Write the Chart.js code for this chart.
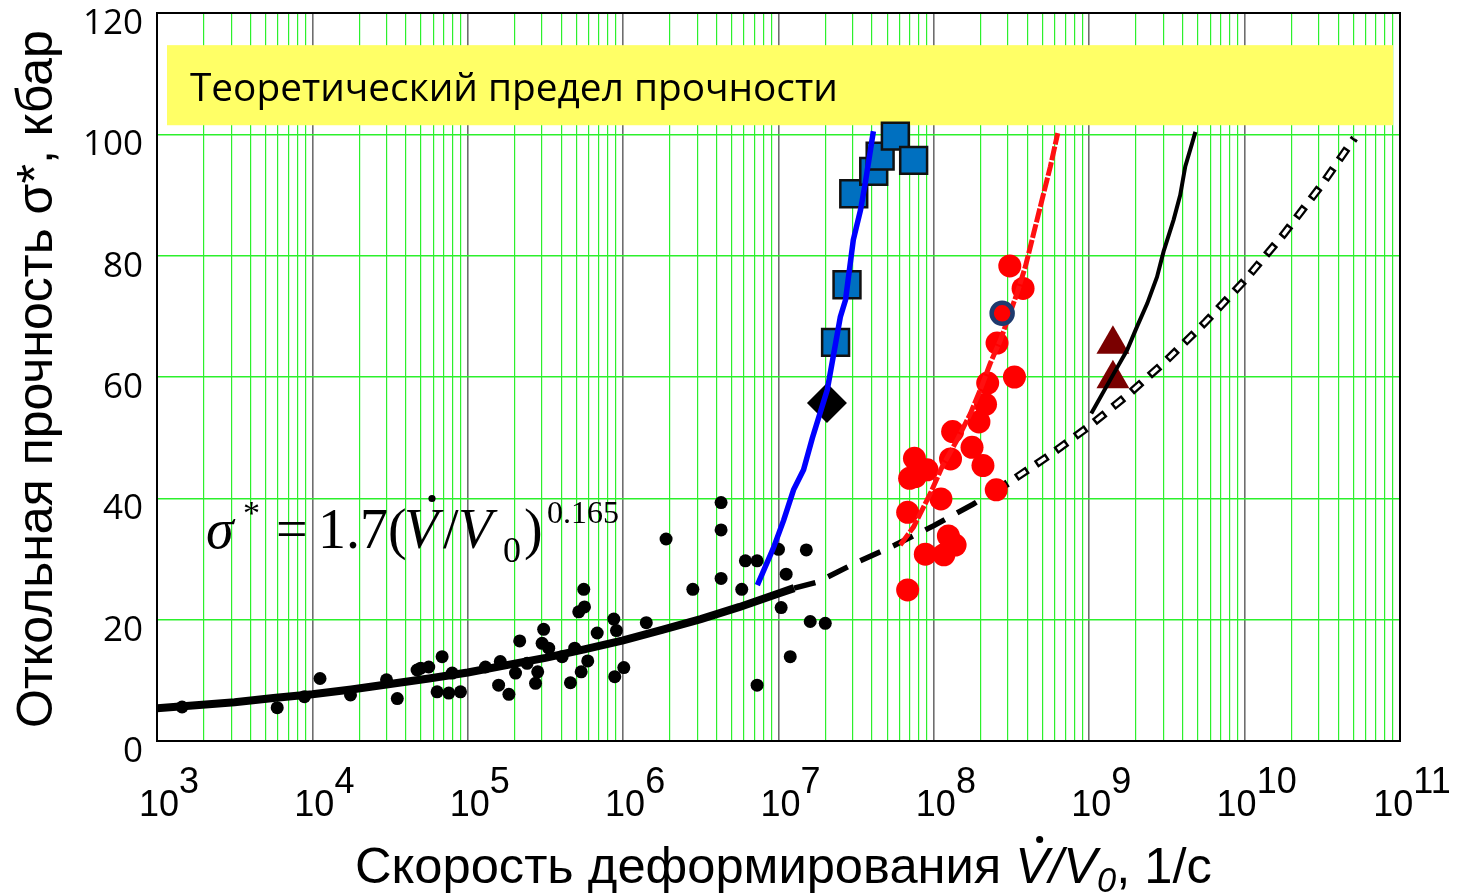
<!DOCTYPE html>
<html>
<head>
<meta charset="utf-8">
<script src="https://cdn.jsdelivr.net/npm/chart.js@4/dist/chart.umd.min.js"></script>
<style>
  html, body { margin: 0; padding: 0; background: #ffffff; }
  #wrap { width: 1457px; height: 896px; position: relative; }
</style>
</head>
<body>
<div id="wrap"><canvas id="c"></canvas></div>
<script>
// Power-law fit σ* = 1.7 (V̇/V0)^0.165 — solid part over the measured range
const fitSolidRate  = [1e3, 1.78e3, 3.16e3, 5.62e3, 1e4, 1.78e4, 3.16e4, 5.62e4, 1e5, 1.78e5, 3.16e5, 5.62e5, 1e6, 1.78e6, 3.16e6, 5.62e6, 1e7, 1.26e7];
const fitSolidSigma = [5.4, 5.9, 6.4, 7.1, 7.7, 8.5, 9.4, 10.3, 11.3, 12.5, 13.7, 15.1, 16.6, 18.3, 20.1, 22.1, 24.3, 25.2];
// extrapolated part: black dashes, then outlined dashes
const fitDashRate   = [1.26e7, 1.78e7, 3.16e7, 5.62e7, 1e8, 1.78e8, 2.5e8];
const fitDashSigma  = [25.2, 26.2, 29.4, 32.3, 35.5, 39.0, 41.3];
const fitHollowRate  = [2.5e8, 3.16e8, 5.62e8, 1e9, 1.78e9, 3.16e9, 5.62e9, 1e10, 1.78e10, 3.16e10, 5.1e10];
const fitHollowSigma = [41.3, 42.9, 47.2, 51.9, 57.1, 62.8, 69.1, 75.9, 83.5, 91.8, 99.4];

// model curves
const blueRate  = [7.31e6, 9.27e6, 1.08e7, 1.25e7, 1.45e7, 1.65e7, 2.06e7, 2.50e7, 2.70e7, 3.03e7, 3.37e7, 3.62e7, 4.08e7];
const blueSigma = [25.7, 31.8, 36.4, 41.4, 44.7, 49.9, 57.9, 69.9, 72.7, 82.6, 87.5, 92.0, 100.5];
const redLineRate  = [6.08e7, 7.41e7, 9.49e7, 1.13e8, 1.41e8, 1.72e8, 1.99e8, 2.31e8, 2.68e8, 3.03e8, 3.43e8, 3.88e8, 4.39e8, 5.09e8, 5.62e8, 6.27e8];
const redLineSigma = [32.3, 35.3, 40.8, 45.2, 49.6, 54.0, 57.9, 62.3, 66.1, 69.9, 73.8, 78.2, 83.7, 90.3, 94.7, 100.2];
const blackLineRate  = [1.03e9, 1.44e9, 1.75e9, 2.03e9, 2.36e9, 2.73e9, 3.01e9, 3.49e9, 3.85e9, 4.15e9, 4.59e9, 4.82e9];
const blackLineSigma = [54.0, 60.6, 64.4, 68.3, 72.1, 76.5, 80.7, 85.9, 90.0, 94.7, 98.5, 100.4];

// experiments
const dotRate = [1.45e3, 5.94e3, 8.89e3, 1.12e4, 1.76e4, 3.00e4, 3.52e4, 4.72e4, 4.98e4, 5.61e4, 6.84e4, 6.35e4, 7.55e4, 8.98e4, 7.94e4,
  1.30e5, 1.58e5, 1.62e5, 1.84e5, 2.03e5, 2.16e5, 2.41e5, 2.73e5, 2.82e5, 3.08e5, 3.01e5, 3.32e5, 4.05e5, 4.58e5, 4.88e5,
  5.18e5, 5.64e5, 5.58e5, 5.37e5, 5.92e5, 6.81e5, 8.71e5, 9.06e5, 8.83e5, 1.01e6, 1.41e6, 1.89e6, 2.81e6, 4.27e6, 4.27e6,
  4.27e6, 5.80e6, 6.12e6, 7.28e6, 7.28e6, 1.00e7, 1.12e7, 1.04e7, 1.19e7, 1.51e7, 1.60e7, 2.00e7];
const dotSigma = [5.6, 5.5, 7.3, 10.3, 7.6, 10.1, 7.0, 11.7, 12.0, 12.2, 13.9, 8.1, 7.9, 8.1, 11.2,
  12.2, 9.2, 13.1, 7.7, 11.2, 16.5, 12.8, 9.5, 11.4, 18.4, 16.1, 15.3, 13.9, 9.6, 15.3,
  21.3, 22.1, 25.0, 11.4, 13.2, 17.8, 20.1, 18.2, 10.6, 12.1, 19.5, 33.3, 25.0, 39.3, 34.8,
  26.8, 25.0, 29.7, 29.7, 9.2, 31.6, 27.5, 22.0, 13.9, 31.5, 19.7, 19.4];
const squareRate  = [2.33e7, 2.76e7, 3.05e7, 4.10e7, 4.51e7, 5.65e7, 7.41e7];
const squareSigma = [65.7, 75.2, 90.2, 93.9, 96.4, 99.7, 95.7];
const diamondRate  = [2.05e7];
const diamondSigma = [55.7];
const redDotRate  = [3.08e8, 3.75e8, 2.55e8, 3.30e8, 2.22e8, 2.15e8, 1.95e8, 1.32e8, 1.76e8, 1.28e8, 2.07e8, 7.50e7, 9.04e7,
  6.98e7, 7.6e7, 1.11e8, 6.78e7, 2.52e8, 8.81e7, 1.16e8, 1.37e8, 1.24e8, 6.78e7];
const redDotSigma = [78.3, 74.6, 65.6, 60.0, 59.0, 55.5, 52.6, 51.0, 48.4, 46.5, 45.4, 46.6, 44.7,
  43.3, 43.6, 39.9, 37.7, 41.4, 30.8, 30.7, 32.3, 33.8, 24.9];
const ringRate  = [2.75e8];
const ringSigma = [70.5];
const triangleRate  = [1.42e9, 1.42e9];
const triangleSigma = [65.4, 59.7];

// axes
const yTickValues = [0, 20, 40, 60, 80, 100, 120];
const xDecadeExponents = [3, 4, 5, 6, 7, 8, 9, 10, 11];

const pts = (xs, ys) => xs.map((x, i) => ({ x: x, y: ys[i] }));

const xGridValues = [];
for (let e = 3; e < 11; e++) for (let m = 1; m < 10; m++) xGridValues.push(m * Math.pow(10, e));
xGridValues.push(1e11);
const isDecade = v => Math.abs(Math.log10(v) - Math.round(Math.log10(v))) < 1e-9;

const GREEN = '#2cf02c';

const decorations = {
  id: 'decorations',
  beforeDatasetsDraw(chart) {
    const { ctx, chartArea: a, scales: { y } } = chart;
    // band of the theoretical strength limit
    const top = y.getPixelForValue(114.7), bottom = y.getPixelForValue(101.5);
    ctx.save();
    ctx.fillStyle = '#ffff66';
    ctx.fillRect(a.left + 10, top, a.right - a.left - 17, bottom - top);
    const label = 'Теоретический предел прочности';
    ctx.font = '40px "Open Sans"';
    const s = 40 * 648 / ctx.measureText(label).width;
    ctx.font = s.toFixed(2) + 'px "Open Sans"';
    ctx.fillStyle = '#000';
    ctx.textBaseline = 'alphabetic';
    ctx.fillText(label, a.left + 33, (top + bottom) / 2 + 16);
    ctx.restore();
  },
  afterDatasetsDraw(chart) {
    const { ctx } = chart;
    ctx.save();
    ctx.fillStyle = '#000';
    ctx.textBaseline = 'alphabetic';
    const serif = '"Liberation Serif", "DejaVu Serif", serif';
    ctx.font = 'italic 56px ' + serif;
    ctx.fillText('σ', 206, 548);
    ctx.font = '34px ' + serif;
    ctx.fillText('*', 243, 524);
    ctx.font = '56px ' + serif;
    ctx.fillText('=', 276, 548);
    ctx.fillText('1.7(', 318, 548);
    ctx.font = 'italic 56px ' + serif;
    ctx.fillText('V', 404, 548);
    ctx.beginPath(); ctx.arc(432, 498.5, 3.6, 0, Math.PI * 2); ctx.fill();
    ctx.font = '56px ' + serif;
    ctx.fillText('/', 443, 548);
    ctx.font = 'italic 56px ' + serif;
    ctx.fillText('V', 458, 548);
    ctx.font = '36px ' + serif;
    ctx.fillText('0', 503, 562);
    ctx.font = '56px ' + serif;
    ctx.fillText(')', 524, 548);
    ctx.font = '32px ' + serif;
    ctx.fillText('0.165', 547, 523);
    ctx.restore();
  },
  afterDraw(chart) {
    const { ctx, chartArea: a, scales: { x, y } } = chart;
    ctx.save();
    // frame
    ctx.strokeStyle = '#000';
    ctx.lineWidth = 2;
    ctx.strokeRect(a.left, a.top, a.right - a.left, a.bottom - a.top);

    ctx.fillStyle = '#000';
    // y tick labels
    ctx.font = '35px "Open Sans"';
    ctx.textAlign = 'right';
    ctx.textBaseline = 'middle';
    yTickValues.forEach(v => ctx.fillText(String(v), 143, y.getPixelForValue(v) + 11));

    // x tick labels 10^n
    ctx.font = '36px "Liberation Sans"';
    ctx.textAlign = 'left';
    ctx.textBaseline = 'alphabetic';
    xDecadeExponents.forEach(e => {
      const px = x.getPixelForValue(Math.pow(10, e));
      const wb = ctx.measureText('10').width;
      const we = ctx.measureText(String(e)).width;
      const x0 = px + 12 - (wb + we) / 2;
      ctx.fillText('10', x0, 816);
      ctx.fillText(String(e), x0 + wb, 793);
    });

    // x title
    const sans = '"Liberation Sans", Arial, sans-serif';
    const parts = [
      { t: 'Скорость деформирования ', it: false },
      { t: 'V', it: true, dot: true },
      { t: '/', it: true },
      { t: 'V', it: true },
      { t: '0', it: true, sub: true },
      { t: ', 1/с', it: false }
    ];
    const widthAt = (size) => parts.reduce((w, p) => {
      const fs = p.sub ? size * 0.68 : size;
      ctx.font = (p.it ? 'italic ' : '') + fs + 'px ' + sans;
      return w + ctx.measureText(p.t).width;
    }, 0);
    const size = 50 * 857 / widthAt(50);
    let cx = 355;
    const base = 883;
    parts.forEach(p => {
      const fs = p.sub ? size * 0.68 : size;
      ctx.font = (p.it ? 'italic ' : '') + fs.toFixed(2) + 'px ' + sans;
      const w = ctx.measureText(p.t).width;
      ctx.fillText(p.t, cx, p.sub ? base + size * 0.17 : base);
      if (p.dot) {
        ctx.beginPath();
        ctx.arc(cx + w * 0.72, base - size * 0.86, size * 0.07, 0, Math.PI * 2);
        ctx.fill();
      }
      cx += w;
    });

    // y title
    const yt = 'Откольная прочность σ*, кбар';
    ctx.font = '50px ' + sans;
    const ys = 50 * 698 / ctx.measureText(yt).width;
    ctx.font = ys.toFixed(2) + 'px ' + sans;
    ctx.translate(52, 728);
    ctx.rotate(-Math.PI / 2);
    ctx.fillText(yt, 0, 0);
    ctx.restore();
  }
};

const line = (data, color, width, dash, extra) => Object.assign({
  data: data, showLine: true, borderColor: color, backgroundColor: color,
  borderWidth: width, borderDash: dash || [], pointRadius: 0, pointHoverRadius: 0,
  fill: false, tension: 0
}, extra || {});

const marks = (data, style, radius, fill, border, bw) => ({
  data: data, showLine: false, pointStyle: style, pointRadius: radius, pointHoverRadius: radius,
  backgroundColor: fill, pointBackgroundColor: fill, pointBorderColor: border, borderColor: border, pointBorderWidth: bw
});

new Chart(document.getElementById('c'), {
  type: 'scatter',
  data: {
    datasets: [
      marks(pts(ringRate, ringSigma), 'circle', 10.5, '#ff0000', '#1f3a6e', 4.5),
      line(pts(blueRate, blueSigma), '#0000ff', 5.5),
      line(pts(redLineRate, redLineSigma), '#ff1010', 5, [14, 2]),
      line(pts(blackLineRate, blackLineSigma), '#000000', 4),
      marks(pts(triangleRate, triangleSigma), 'triangle', 19, '#7a0000', '#7a0000', 0),
      marks(pts(redDotRate, redDotSigma), 'circle', 11.5, '#ff0000', '#ff0000', 0),
      marks(pts(squareRate, squareSigma), 'rect', 19, '#0070c0', '#111111', 2.5),
      marks(pts(diamondRate, diamondSigma), 'rectRot', 20, '#000000', '#000000', 0),
      line(pts(fitHollowRate, fitHollowSigma), '#ffffff', 3.5, [9, 15], { borderDashOffset: -2.5 }),
      line(pts(fitHollowRate, fitHollowSigma), '#000000', 8, [14, 10]),
      line(pts(fitDashRate, fitDashSigma), '#000000', 5.5, [22, 14]),
      line(pts(fitSolidRate, fitSolidSigma), '#000000', 8),
      marks(pts(dotRate, dotSigma), 'circle', 6.5, '#000000', '#000000', 0)
    ]
  },
  options: {
    responsive: true,
    maintainAspectRatio: false,
    animation: false,
    events: [],
    layout: { autoPadding: false, padding: { left: 0, right: 57, top: 13, bottom: 0 } },
    plugins: { legend: { display: false }, tooltip: { enabled: false }, title: { display: false } },
    scales: {
      x: {
        type: 'logarithmic', min: 1e3, max: 1e11,
        afterBuildTicks: s => { s.ticks = xGridValues.map(v => ({ value: v })); },
        afterFit: s => { s.height = 155; s.paddingLeft = 0; s.paddingRight = 0; },
        ticks: { display: false, autoSkip: false },
        grid: {
          drawTicks: false,
          color: c => (c.tick && isDecade(c.tick.value)) ? '#6e6e6e' : GREEN,
          lineWidth: c => (c.tick && isDecade(c.tick.value)) ? 1.6 : 1.2
        },
        border: { display: true, color: '#000', width: 2 }
      },
      y: {
        type: 'linear', min: 0, max: 120,
        afterBuildTicks: s => { s.ticks = yTickValues.map(v => ({ value: v })); },
        afterFit: s => { s.width = 157; s.paddingTop = 0; s.paddingBottom = 0; },
        ticks: { display: false },
        grid: { drawTicks: false, color: GREEN, lineWidth: 1.5 },
        border: { display: true, color: '#000', width: 2 }
      }
    }
  },
  plugins: [decorations]
});
</script>
</body>
</html>
